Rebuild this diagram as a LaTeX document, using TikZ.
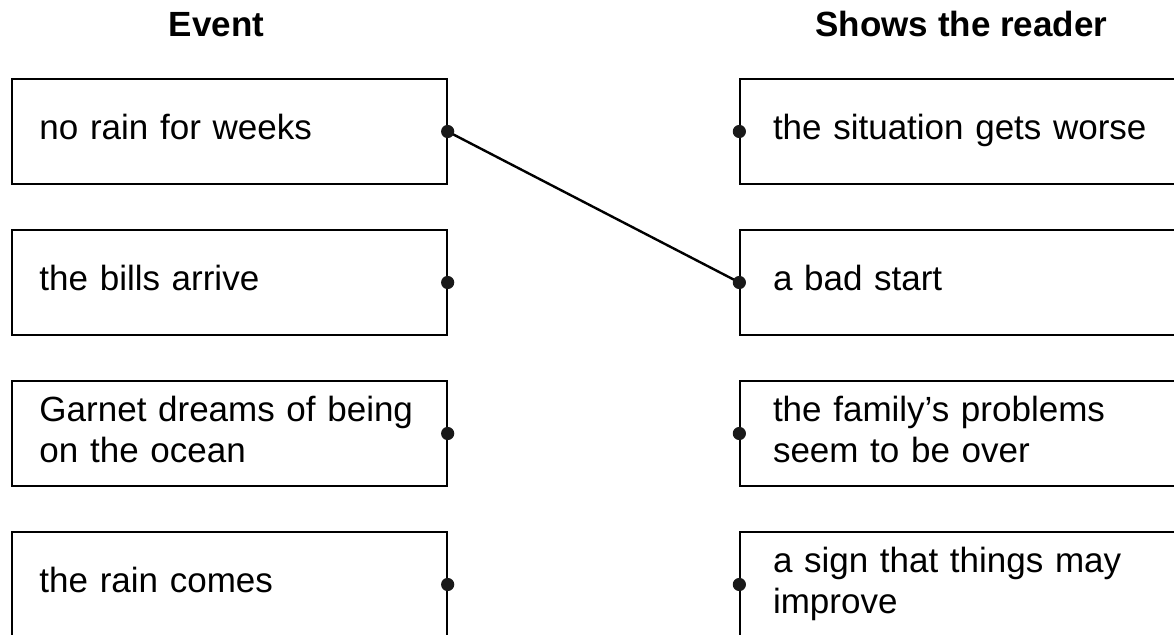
\documentclass[tikz,border=0pt]{standalone}
\usepackage{fontspec}
\setmainfont{Liberation Sans}
\newcommand{\boxstrut}{\rule[-4.5pt]{0pt}{14pt}}
\begin{document}
\begin{tikzpicture}[x=0.5pt,y=-0.5pt,
    txt/.style={font=\fontsize{17.5}{20.5}\selectfont},
    heading/.style={txt, font=\fontsize{17.5}{20.5}\selectfont\bfseries, anchor=base},
    eventbox/.style={txt, draw, line width=0.65pt, minimum width=217.5pt, minimum height=52.5pt,
        inner xsep=13.5pt, inner ysep=0pt, text width=190pt, align=left,
        execute at begin node=\boxstrut, execute at end node=\boxstrut},
    readerbox/.style={eventbox, minimum width=220pt, inner xsep=16.5pt, text width=187pt},
    dot/.style={fill=black!90},
    link/.style={line width=1.2pt}]
    \useasboundingbox (0,0) rectangle (1174,635);

    \node [heading] (event) at (216.5,37) {Event};
    \node [heading] (reader) at (961.5,37) {Shows the reader};

    \node [eventbox] (e1) at (229.5,131.5) {no rain for weeks};
    \node [eventbox] (e2) at (229.5,282.5) {the bills arrive};
    \node [eventbox] (e3) at (229.5,433.5) {Garnet dreams of being\\on the ocean};
    \node [eventbox] (e4) at (229.5,584.5) {the rain comes};

    \node [readerbox] (r1) at (960,131.5) {the situation gets worse};
    \node [readerbox] (r2) at (960,282.5) {a bad start};
    \node [readerbox] (r3) at (960,433.5) {the family’s problems\\seem to be over};
    \node [readerbox] (r4) at (960,584.5) {a sign that things may\\improve};

    \draw [link] (e1.east) -- (r2.west);

    \fill [dot] (e1.east) circle [radius=3.3pt];
    \fill [dot] (e2.east) circle [radius=3.3pt];
    \fill [dot] (e3.east) circle [radius=3.3pt];
    \fill [dot] (e4.east) circle [radius=3.3pt];
    \fill [dot] (r1.west) circle [radius=3.3pt];
    \fill [dot] (r2.west) circle [radius=3.3pt];
    \fill [dot] (r3.west) circle [radius=3.3pt];
    \fill [dot] (r4.west) circle [radius=3.3pt];
\end{tikzpicture}
\end{document}
